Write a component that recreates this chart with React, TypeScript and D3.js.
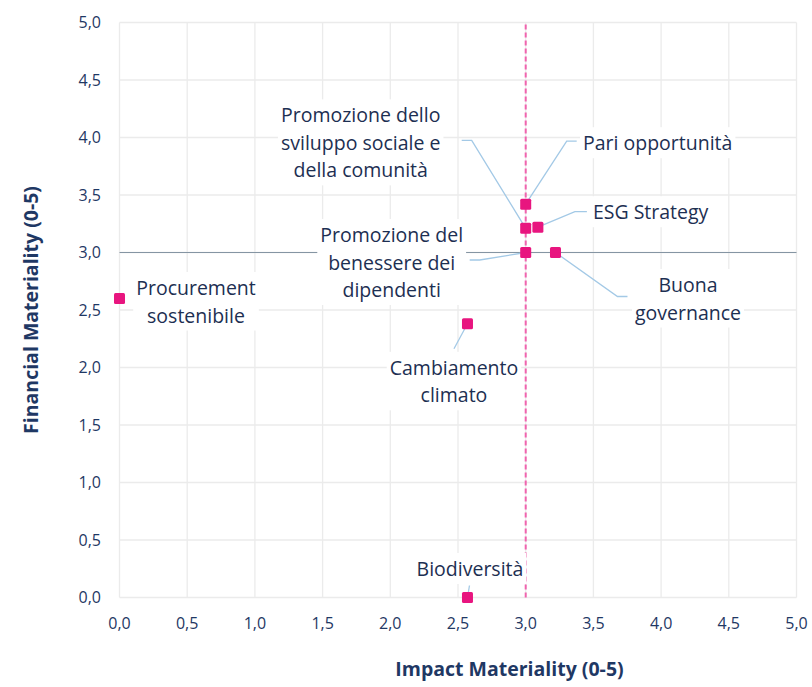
import React, { useRef, useEffect } from "react";
import * as d3 from "d3";

// topics on the materiality matrix
const topics = [
  "Procurement sostenibile",
  "Cambiamento climato",
  "Biodiversità",
  "Promozione del benessere dei dipendenti",
  "Buona governance",
  "Promozione dello sviluppo sociale e della comunità",
  "ESG Strategy",
  "Pari opportunità",
];
const impact = [0, 2.57, 2.57, 3.0, 3.22, 3.0, 3.09, 3.0];
const financial = [2.6, 2.38, 0, 3.0, 3.0, 3.21, 3.22, 3.42];
const labelLines = [
  ["Procurement", "sostenibile"],
  ["Cambiamento", "climato"],
  ["Biodiversità"],
  ["Promozione del", "benessere dei", "dipendenti"],
  ["Buona", "governance"],
  ["Promozione dello", "sviluppo sociale e", "della comunità"],
  ["ESG Strategy"],
  ["Pari opportunità"],
];
const ticks = [0, 0.5, 1, 1.5, 2, 2.5, 3, 3.5, 4, 4.5, 5];
const thresholdX = 3.0;
const thresholdY = 3.0;

// label placement, offsets in px from the point
const labelLayout = [
  { anchor: "middle", dx: 76.5, dy: -3.5, leader: [] },
  { anchor: "middle", dx: -13.5, dy: 51, leader: [[0, 0], [-13.5, 25]] },
  { anchor: "middle", dx: 2.5, dy: -21.5, leader: [[0, 0], [2, -12]] },
  { anchor: "middle", dx: -134, dy: -10.5, leader: [[0, 0], [-46, 7.5], [-56, 7.5]] },
  { anchor: "middle", dx: 132.5, dy: 39.5, leader: [[0, 0], [62, 44], [72, 44]] },
  { anchor: "middle", dx: -165, dy: -106, leader: [[0, 0], [-54, -88], [-64, -88]] },
  { anchor: "start", dx: 55, dy: -8, leader: [[0, 0], [37, -15.5], [49, -15.5]] },
  { anchor: "start", dx: 57.3, dy: -54, leader: [[0, 0], [41, -63], [51, -63]] },
];

const width = 812;
const height = 687;
const navy = "#1F3864";
const pink = "#E8157F";
const font = "'Open Sans', sans-serif";

export default function App() {
  const ref = useRef<SVGSVGElement>(null);

  useEffect(() => {
    const x = d3.scaleLinear().domain([0, 5]).range([119.5, 796.5]);
    const y = d3.scaleLinear().domain([0, 5]).range([597.5, 22.5]);
    const fmt = (v: number) => d3.format(".1f")(v).replace(".", ",");

    const svg = d3.select(ref.current);
    svg.selectAll("*").remove();

    const grid = svg.append("g");
    grid
      .selectAll("line.v")
      .data(ticks)
      .join("line")
      .attr("x1", (d) => x(d))
      .attr("x2", (d) => x(d))
      .attr("y1", y(0))
      .attr("y2", y(5))
      .attr("stroke", "#EBEBEB")
      .attr("stroke-width", 1.3);
    grid
      .selectAll("line.h")
      .data(ticks)
      .join("line")
      .attr("x1", x(0))
      .attr("x2", x(5))
      .attr("y1", (d) => y(d))
      .attr("y2", (d) => y(d))
      .attr("stroke", "#EBEBEB")
      .attr("stroke-width", 1.3);

    svg
      .append("line")
      .attr("x1", x(0))
      .attr("x2", x(5))
      .attr("y1", y(thresholdY))
      .attr("y2", y(thresholdY))
      .attr("stroke", "#8595A3")
      .attr("stroke-width", 1.2);

    svg
      .append("line")
      .attr("x1", x(thresholdX))
      .attr("x2", x(thresholdX))
      .attr("y1", y(0))
      .attr("y2", y(5))
      .attr("stroke", "#F064AE")
      .attr("stroke-width", 2)
      .attr("stroke-dasharray", "5,3");

    // tick labels
    svg
      .append("g")
      .selectAll("text")
      .data(ticks)
      .join("text")
      .attr("x", 101)
      .attr("y", (d) => y(d) + 5.5)
      .attr("text-anchor", "end")
      .attr("font-family", font)
      .attr("font-size", 16)
      .attr("fill", navy)
      .text(fmt);
    svg
      .append("g")
      .selectAll("text")
      .data(ticks)
      .join("text")
      .attr("x", (d) => x(d))
      .attr("y", 629)
      .attr("text-anchor", "middle")
      .attr("font-family", font)
      .attr("font-size", 16)
      .attr("fill", navy)
      .text(fmt);

    svg
      .append("text")
      .attr("x", 509.5)
      .attr("y", 676)
      .attr("text-anchor", "middle")
      .attr("font-family", font)
      .attr("font-size", 19.5)
      .attr("font-weight", "bold")
      .attr("fill", navy)
      .text("Impact Materiality (0-5)");
    svg
      .append("text")
      .attr("transform", "translate(38,310) rotate(-90)")
      .attr("text-anchor", "middle")
      .attr("font-family", font)
      .attr("font-size", 19.5)
      .attr("font-weight", "bold")
      .attr("fill", navy)
      .text("Financial Materiality (0-5)");

    const pts = topics.map((t, i) => ({
      t,
      px: x(impact[i]),
      py: y(financial[i]),
      lines: labelLines[i],
      lay: labelLayout[i],
    }));

    // leader lines
    const line = d3.line<number[]>().x((d) => d[0]).y((d) => d[1]);
    svg
      .append("g")
      .selectAll("path")
      .data(pts.filter((p) => p.lay.leader.length))
      .join("path")
      .attr("d", (p) => line(p.lay.leader.map(([a, b]) => [p.px + a, p.py + b])))
      .attr("fill", "none")
      .attr("stroke", "#A3C9E6")
      .attr("stroke-width", 1.3);

    // labels with white boxes
    const labels = svg.append("g");
    pts.forEach((p) => {
      const g = labels.append("g");
      const rect = g.append("rect").attr("fill", "#fff");
      const text = g
        .append("text")
        .attr("text-anchor", p.lay.anchor)
        .attr("font-family", font)
        .attr("font-size", 19.5)
        .attr("fill", "#1D2F52");
      p.lines.forEach((l, j) => {
        text
          .append("tspan")
          .attr("x", p.px + p.lay.dx)
          .attr("y", p.py + p.lay.dy + j * 27.5)
          .text(l);
      });
      const bb = (text.node() as SVGTextElement).getBBox();
      rect
        .attr("x", bb.x - 3)
        .attr("y", bb.y - 2)
        .attr("width", bb.width + 6)
        .attr("height", bb.height + 4);
    });

    // points
    const s = 11;
    svg
      .append("g")
      .selectAll("rect")
      .data(pts)
      .join("rect")
      .attr("x", (p) => p.px - s / 2)
      .attr("y", (p) => p.py - s / 2)
      .attr("width", s)
      .attr("height", s)
      .attr("rx", 1.5)
      .attr("fill", pink);
  }, []);

  return (
    <svg
      ref={ref}
      width={width}
      height={height}
      style={{ position: "absolute", left: 0, top: 0, background: "#fff" }}
    ></svg>
  );
}
